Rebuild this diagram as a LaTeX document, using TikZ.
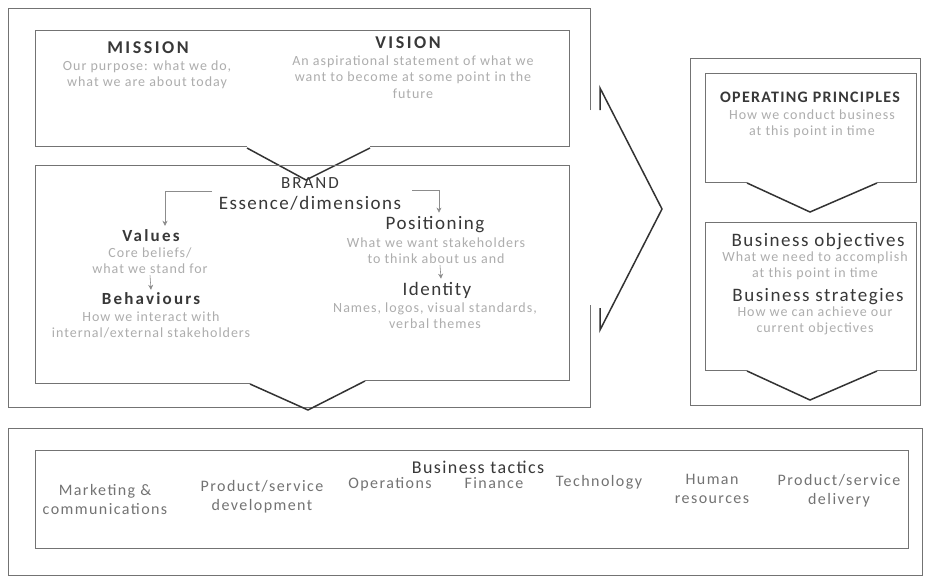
\documentclass[tikz,border=0pt]{standalone}
\usepackage{fontspec}
\setmainfont{Carlito}
\usetikzlibrary{arrows.meta}
\definecolor{desc}{gray}{0.68}
\definecolor{ln}{gray}{0.45}
\definecolor{ttl}{gray}{0.22}
\newcommand{\lsp}[1]{\addfontfeature{LetterSpace=#1}}
\begin{document}
\begin{tikzpicture}[x=1pt,y=-1pt,
  box/.style={draw=ln,line width=0.9pt},
  chev/.style={draw=black!80,line width=1.5pt,line join=miter},
  ttlA/.style={font=\fontsize{18}{20}\selectfont\bfseries\lsp{14},text=ttl,inner sep=0pt},
  ttlB/.style={font=\fontsize{19}{21}\selectfont\lsp{8},text=ttl,inner sep=0pt},
  ttlC/.style={font=\fontsize{17}{19}\selectfont\bfseries\lsp{13},text=ttl,inner sep=0pt},
  dsc/.style={font=\fontsize{14}{16.3}\selectfont\lsp{7},text=desc,align=center,inner sep=0pt},
  itm/.style={font=\fontsize{16}{19}\selectfont\lsp{9},text=black!55,align=center,inner sep=0pt},
  conn/.style={draw=black!45,line width=0.6pt,-{Stealth[length=5pt,width=5pt]}}]
\useasboundingbox (0,0) rectangle (928,584);
\fill[white] (0,0) rectangle (928,584);
% left outer box
\draw[box] (590,110) -- (590,8) -- (8,8) -- (8,407) -- (590,407) -- (590,305);
% mission/vision box
\draw[box] (247,146) -- (35,146) -- (35,30) -- (569,30) -- (569,146) -- (370,146);
\draw[chev] (247,148) -- (306,180) -- (370,148);
% brand box
\draw[box] (250,383) -- (35,383) -- (35,165) -- (569,165) -- (569,380) -- (365,380);
\draw[chev] (250,384) -- (308,410) -- (365,381);
% big chevron
\draw[chev] (600,110) -- (600,88) -- (662,209) -- (600,330) -- (600,308);
% right outer box
\draw[box] (690,58) rectangle (920,405);
\draw[box] (747,182) -- (705,182) -- (705,73) -- (916,73) -- (916,182) -- (877,182);
\draw[chev] (747,183) -- (810,212) -- (877,183);
\draw[box] (747,370) -- (705,370) -- (705,222) -- (916,222) -- (916,370) -- (877,370);
\draw[chev] (747,371) -- (810,400) -- (877,371);
% bottom boxes
\draw[box] (8,428) rectangle (922,575);
\draw[box] (35,450) rectangle (908,548);

% texts
\node[ttlA] (mission) at (148,48) {MISSION};
\node[dsc] (missiond) at (147,75) {Our purpose: what we do,\\what we are about today};
\node[ttlA] (vision) at (408,43) {VISION};
\node[dsc] (visiond) at (413,77) {An aspirational statement of what we\\want to become at some point in the\\future};

\node[font=\fontsize{17}{19}\selectfont\lsp{12},text=ttl,inner sep=0pt] (brand) at (310,183) {BRAND};
\node[ttlB] (essence) at (310,203) {Essence/dimensions};
\node[ttlC] (values) at (151,236) {Values};
\node[dsc] (valuesd) at (150,261) {Core beliefs/\\what we stand for};
\node[ttlC] (behav) at (151,299) {Behaviours};
\node[dsc] (behavd) at (151,325) {How we interact with\\internal/external stakeholders};
\node[ttlB] (posit) at (435,225) {Positioning};
\node[dsc] (positd) at (436,251) {What we want stakeholders\\to think about us and};
\node[ttlB] (ident) at (437,290) {Identity};
\node[dsc] (identd) at (435,316) {Names, logos, visual standards,\\verbal themes};

\coordinate (cl) at (212,191);
\coordinate (cr) at (412,190);
\draw[conn] (cl) -| ([xshift=14pt,yshift=4pt]values.north);
\draw[conn] (cr) -| ([xshift=4pt,yshift=4pt]posit.north);
\draw[conn] ([yshift=-1pt]valuesd.south) -- ([yshift=3pt]behav.north);
\draw[conn] ([xshift=4pt,yshift=-1pt]positd.south) -- ([xshift=4pt,yshift=3pt]ident.north);

\node[font=\fontsize{16}{18}\selectfont\bfseries\lsp{8},text=ttl,inner sep=0pt] (oppr) at (810,97) {OPERATING PRINCIPLES};
\node[dsc] (opprd) at (812,124) {How we conduct business\\at this point in time};
\node[ttlB] (bobj) at (818,242) {Business objectives};
\node[dsc] (bobjd) at (815,266) {What we need to accomplish\\at this point in time};
\node[ttlB] (bstrat) at (818,297) {Business strategies};
\node[dsc] (bstratd) at (815,321) {How we can achieve our\\current objectives};

\node[font=\fontsize{18}{20}\selectfont\lsp{8},text=ttl,inner sep=0pt] (tactics) at (478,467) {Business tactics};
\node[itm,anchor=north] (t1) at (105,484) {Marketing \&\\communications};
\node[itm,anchor=north] (t2) at (262,480) {Product/service\\development};
\node[itm,anchor=north] (t3) at (390,477) {Operations};
\node[itm,anchor=north] (t4) at (494,477) {Finance};
\node[itm,anchor=north] (t5) at (599,475) {Technology};
\node[itm,anchor=north] (t6) at (712,474) {Human\\resources};
\node[itm,anchor=north] (t7) at (839,474) {Product/service\\delivery};
\end{tikzpicture}
\end{document}
